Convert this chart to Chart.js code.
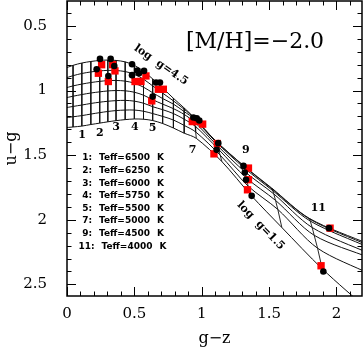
<!DOCTYPE html>
<html>
<head>
<meta charset="utf-8">
<script src="https://cdn.jsdelivr.net/npm/chart.js@4.4.0/dist/chart.umd.min.js"></script>
<style>
  html, body { margin: 0; padding: 0; background: #fff; }
  #wrap { width: 363px; height: 348px; }
</style>
</head>
<body>
<div id="wrap"><canvas id="chart" width="363" height="348"></canvas></div>
<script>
// ================= DATA =================
// model grid: one row per log g, one column per Teff
const loggLevels = [4.5, 4.0, 3.5, 3.0, 2.5, 2.0, 1.5];
const teffGrid = [6750, 6625, 6500, 6375, 6250, 6125, 6000, 5875, 5750, 5625, 5500,
                  5375, 5250, 5125, 5000, 4750, 4500, 4250, 4000, 3750];

const gzGrid = [
    [-0.02, 0.045, 0.11, 0.177, 0.243, 0.303, 0.364, 0.432, 0.50, 0.568, 0.636, 0.71, 0.79, 0.87, 0.940, 1.100, 1.310, 1.520, 1.800, 2.25],
    [-0.02, 0.045, 0.11, 0.177, 0.243, 0.303, 0.364, 0.432, 0.50, 0.568, 0.636, 0.71, 0.79, 0.87, 0.942, 1.103, 1.313, 1.523, 1.802, 2.25],
    [-0.02, 0.045, 0.11, 0.177, 0.243, 0.303, 0.364, 0.432, 0.50, 0.568, 0.636, 0.71, 0.79, 0.87, 0.945, 1.107, 1.317, 1.528, 1.806, 2.25],
    [-0.02, 0.045, 0.11, 0.177, 0.243, 0.303, 0.364, 0.432, 0.50, 0.568, 0.636, 0.71, 0.79, 0.87, 0.948, 1.115, 1.322, 1.535, 1.820, 2.25],
    [-0.02, 0.045, 0.11, 0.177, 0.243, 0.303, 0.364, 0.432, 0.50, 0.568, 0.636, 0.71, 0.79, 0.87, 0.951, 1.125, 1.330, 1.548, 1.835, 2.25],
    [-0.02, 0.045, 0.11, 0.177, 0.243, 0.303, 0.364, 0.432, 0.50, 0.568, 0.636, 0.71, 0.79, 0.87, 0.955, 1.137, 1.345, 1.565, 1.860, 2.25],
    [-0.02, 0.045, 0.11, 0.177, 0.243, 0.303, 0.364, 0.432, 0.50, 0.568, 0.636, 0.71, 0.79, 0.87, 0.960, 1.150, 1.370, 1.595, 1.895, 2.25]
];
const ugGrid = [
    [0.830, 0.805, 0.787, 0.775, 0.767, 0.764, 0.767, 0.778, 0.805, 0.850, 0.910, 0.980, 1.060, 1.135, 1.205, 1.385, 1.580, 1.755, 1.990, 2.192],
    [0.906, 0.885, 0.868, 0.856, 0.848, 0.844, 0.845, 0.853, 0.874, 0.912, 0.964, 1.020, 1.080, 1.145, 1.210, 1.390, 1.585, 1.762, 1.995, 2.203],
    [0.983, 0.964, 0.950, 0.938, 0.929, 0.923, 0.922, 0.927, 0.943, 0.974, 1.017, 1.062, 1.105, 1.163, 1.220, 1.400, 1.600, 1.775, 2.010, 2.218],
    [1.059, 1.044, 1.031, 1.019, 1.010, 1.003, 1.000, 1.002, 1.013, 1.036, 1.071, 1.105, 1.140, 1.185, 1.245, 1.425, 1.630, 1.800, 2.060, 2.263],
    [1.135, 1.123, 1.112, 1.100, 1.090, 1.083, 1.078, 1.076, 1.082, 1.098, 1.125, 1.148, 1.178, 1.222, 1.275, 1.455, 1.675, 1.850, 2.120, 2.295],
    [1.212, 1.203, 1.194, 1.182, 1.171, 1.162, 1.155, 1.151, 1.151, 1.160, 1.178, 1.200, 1.228, 1.270, 1.320, 1.500, 1.740, 1.920, 2.220, 2.420],
    [1.288, 1.282, 1.275, 1.263, 1.252, 1.242, 1.233, 1.225, 1.220, 1.222, 1.232, 1.255, 1.290, 1.330, 1.370, 1.550, 1.815, 2.060, 2.380, 2.710]
];

// observed stars
const blackGz = [0.245, 0.324, 0.220, 0.351, 0.307, 0.483, 0.522, 0.483, 0.535, 0.572, 0.661, 0.690,
                 0.636, 0.938, 0.963, 0.982, 1.123, 1.111, 1.310, 1.320, 1.329, 1.371, 1.945, 1.903];
const blackUg = [0.755, 0.755, 0.835, 0.810, 0.887, 0.796, 0.846, 0.881, 0.866, 0.848, 0.938, 0.938,
                 1.047, 1.209, 1.214, 1.232, 1.407, 1.459, 1.583, 1.634, 1.691, 1.815, 2.065, 2.400];
const redGz = [0.257, 0.339, 0.233, 0.307, 0.356, 0.505, 0.549, 0.586, 0.678, 0.715, 0.629,
               0.930, 0.963, 1.007, 1.116, 1.091, 1.347, 1.347, 1.340, 1.953, 1.886];
const redUg = [0.800, 0.800, 0.866, 0.930, 0.848, 0.930, 0.930, 0.887, 0.990, 0.990, 1.080,
               1.240, 1.240, 1.260, 1.410, 1.490, 1.600, 1.690, 1.768, 2.065, 2.356];

const xTicks = [0, 0.5, 1, 1.5, 2];
const yTicks = [0.5, 1, 1.5, 2, 2.5];

const legendIndex = [1, 2, 3, 4, 5, 7, 9, 11];
const legendTeff = [6500, 6250, 6000, 5750, 5500, 5000, 4500, 4000];

// ================= DATASETS =================
const datasets = [];

datasets.push({
    data: blackGz.map((x, i) => ({ x, y: blackUg[i] })),
    pointStyle: 'circle', pointRadius: 3.3, backgroundColor: '#000', borderWidth: 0, order: 0
});
datasets.push({
    data: redGz.map((x, i) => ({ x, y: redUg[i] })),
    pointStyle: 'rect', pointRadius: 5.2, backgroundColor: '#ff0000', borderWidth: 0, order: 1
});

// constant log g curves
loggLevels.forEach((g, k) => {
    datasets.push({
        data: gzGrid[k].map((x, j) => ({ x, y: ugGrid[k][j] })),
        showLine: true, pointRadius: 0, borderColor: '#111', borderWidth: 1, tension: 0.3, order: 2
    });
});

// constant Teff lines
teffGrid.forEach((t, j) => {
    datasets.push({
        data: loggLevels.map((g, k) => ({ x: gzGrid[k][j], y: ugGrid[k][j] })),
        showLine: true, pointRadius: 0, borderColor: '#111', borderWidth: 0.9, tension: 0, order: 2
    });
});

// ================= PLUGINS =================
const framePlugin = {
    id: 'frame',
    afterDraw(chart) {
        const { ctx, chartArea: a, scales: { x, y } } = chart;
        ctx.save();
        ctx.strokeStyle = '#000';
        ctx.lineWidth = 1;
        ctx.beginPath();
        for (let i = 0; i <= 21; i++) {
            const px = Math.round(x.getPixelForValue(i / 10)) + 0.5;
            const len = i % 5 === 0 ? 9 : 4.5;
            ctx.moveTo(px, a.bottom); ctx.lineTo(px, a.bottom - len);
            ctx.moveTo(px, a.top); ctx.lineTo(px, a.top + len);
        }
        for (let i = 4; i <= 25; i++) {
            const py = Math.round(y.getPixelForValue(i / 10)) + 0.5;
            const len = i % 5 === 0 ? 9 : 4.5;
            ctx.moveTo(a.left, py); ctx.lineTo(a.left + len, py);
            ctx.moveTo(a.right, py); ctx.lineTo(a.right - len, py);
        }
        ctx.stroke();
        ctx.lineWidth = 1.5;
        ctx.strokeRect(a.left, a.top, a.right - a.left, a.bottom - a.top);
        ctx.restore();
    }
};

const labelPlugin = {
    id: 'labels',
    afterDatasetsDraw(chart) {
        const { ctx, scales: { x, y } } = chart;
        const at = (gx, uy) => [x.getPixelForValue(gx), y.getPixelForValue(uy)];
        ctx.save();
        ctx.fillStyle = '#000';
        ctx.textAlign = 'center';
        ctx.textBaseline = 'middle';

        ctx.font = '22px "DejaVu Serif"';
        let p = at(1.396, 0.624);
        ctx.fillText('[M/H]=\u22122.0', p[0], p[1]);

        // Teff index labels under the grid
        ctx.font = 'bold 11px "DejaVu Serif"';
        const idx = [['1', 0.111, 1.344], ['2', 0.243, 1.331], ['3', 0.364, 1.28], ['4', 0.503, 1.28],
                     ['5', 0.636, 1.292], ['7', 0.933, 1.464], ['9', 1.327, 1.46], ['11', 1.866, 1.911]];
        idx.forEach(([t, gx, uy]) => { const q = at(gx, uy); ctx.fillText(t, q[0], q[1]); });

        // curve labels
        const rot = (txt, gx, uy, deg) => {
            const q = at(gx, uy);
            ctx.save();
            ctx.translate(q[0], q[1]);
            ctx.rotate(deg * Math.PI / 180);
            ctx.fillText(txt, 0, 0);
            ctx.restore();
        };
        rot('log  g=4.5', 0.698, 0.802, 34.7);
        rot('log  g=1.5', 1.438, 2.046, 45.6);

        // Teff key
        ctx.font = 'bold 9px "DejaVu Sans"';
        const y0 = y.getPixelForValue(1.522);
        legendIndex.forEach((n, i) => {
            const py = y0 + i * 12.6;
            const shift = n >= 10 ? 2.5 : 0;
            ctx.textAlign = 'right';
            ctx.fillText(n + ':', 92 + shift, py);
            ctx.textAlign = 'left';
            ctx.fillText('Teff=' + legendTeff[i], 99 + shift, py);
            ctx.fillText('K', 157 + shift, py);
        });
        ctx.restore();
    }
};

// ================= CHART =================
const tickFont = { family: 'DejaVu Serif', size: 15 };
const titleFont = { family: 'DejaVu Serif', size: 16 };

new Chart(document.getElementById('chart').getContext('2d'), {
    type: 'scatter',
    data: { datasets },
    options: {
        responsive: false,
        animation: false,
        devicePixelRatio: 1,
        layout: { autoPadding: false, padding: { top: 1, right: 1, left: 0, bottom: 0 } },
        plugins: { legend: { display: false }, tooltip: { enabled: false } },
        scales: {
            x: {
                type: 'linear', min: 0, max: 2.19,
                grid: { display: false }, border: { display: false },
                afterBuildTicks: s => { s.ticks = xTicks.map(v => ({ value: v })); },
                afterFit: s => { s.height = 52; s.paddingLeft = 0; s.paddingRight = 0; },
                ticks: { font: tickFont, color: '#000', padding: 1, maxRotation: 0, callback: v => String(v) },
                title: { display: true, text: 'g\u2212z', font: titleFont, color: '#000', padding: { top: 0, bottom: 0 } }
            },
            y: {
                type: 'linear', reverse: true, min: 0.307, max: 2.59,
                grid: { display: false }, border: { display: false },
                afterBuildTicks: s => { s.ticks = yTicks.map(v => ({ value: v })); },
                afterFit: s => { s.width = 67; s.paddingTop = 0; s.paddingBottom = 0; },
                ticks: { font: tickFont, color: '#000', padding: 12, callback: v => String(v) },
                title: { display: true, text: 'u\u2212g', font: titleFont, color: '#000', padding: { top: 2, bottom: 0 } }
            }
        }
    },
    plugins: [labelPlugin, framePlugin]
});
</script>
</body>
</html>
